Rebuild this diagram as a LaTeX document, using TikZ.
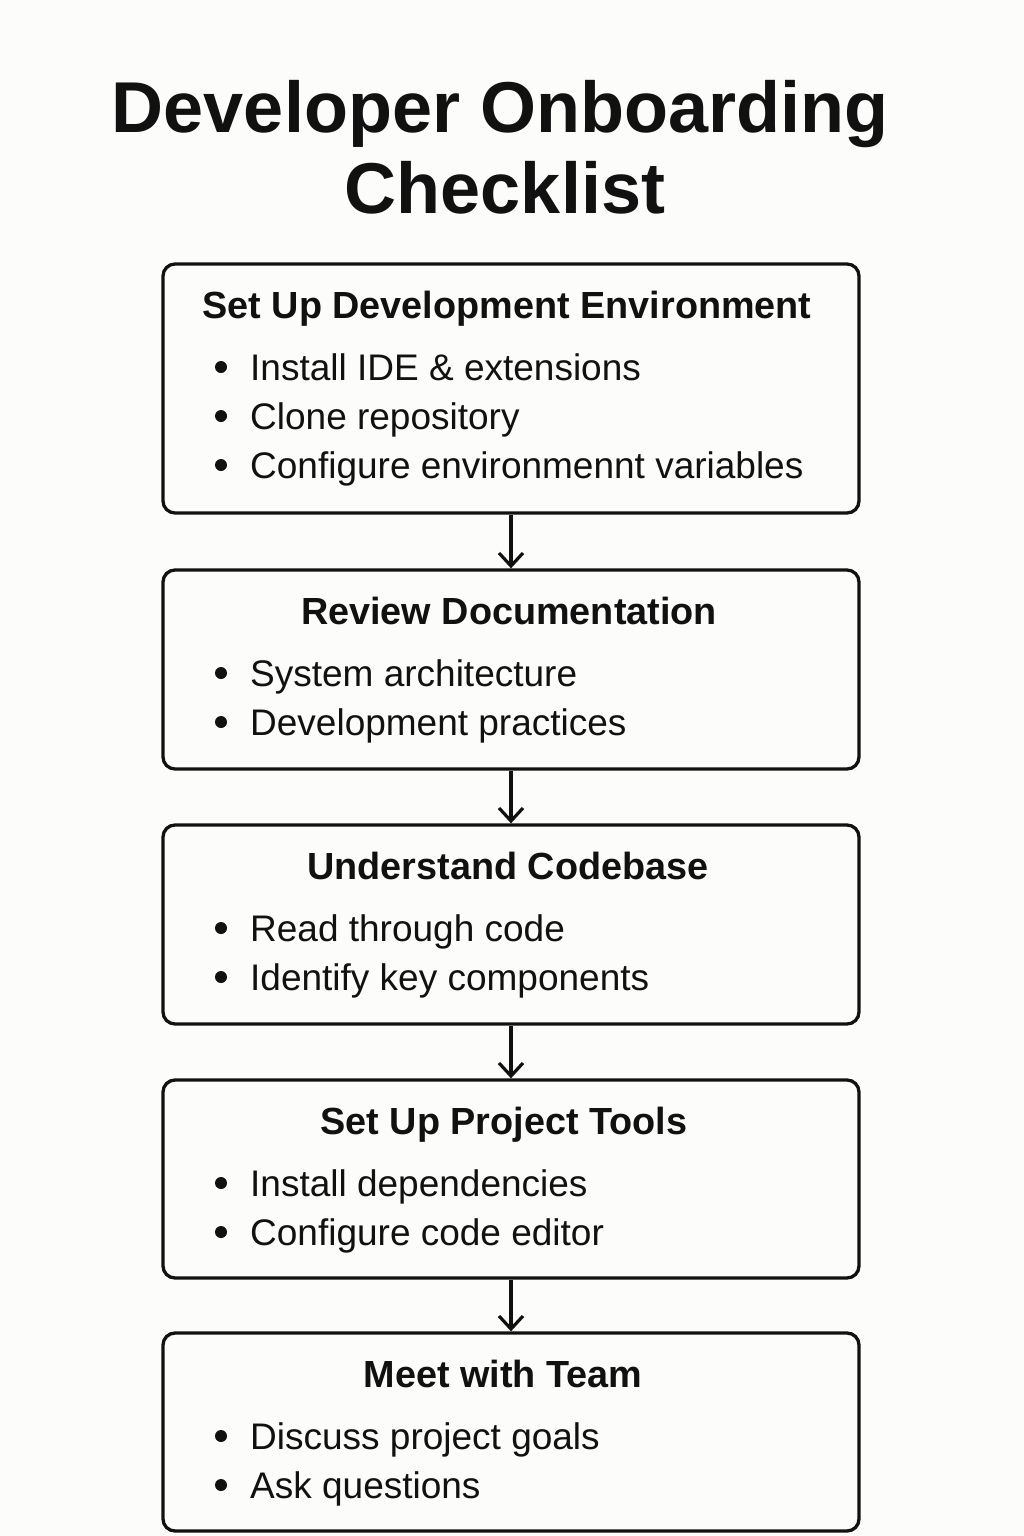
\documentclass[tikz,border=0pt]{standalone}
\usepackage{fontspec}
\setmainfont{Liberation Sans}
\usetikzlibrary{arrows.meta}
\definecolor{bgc}{RGB}{252,252,250}
\definecolor{ink}{RGB}{17,17,17}
\tikzset{
  box/.style={draw=ink, line width=3.3pt, rounded corners=12pt, minimum width=696pt, inner sep=0pt},
  ttl/.style={font=\fontsize{72}{80}\selectfont\bfseries, text=ink, inner sep=0pt, anchor=base},
  head/.style={font=\fontsize{37.8}{40}\selectfont\bfseries, text=ink, inner sep=0pt, anchor=base},
  item/.style={font=\fontsize{37}{40}\selectfont, text=ink, inner sep=0pt, anchor=base west},
  dot/.style={circle, fill=ink, minimum size=12pt, inner sep=0pt},
  flow/.style={draw=ink, line width=3.4pt, -{Straight Barb[length=13pt,width=24pt,line width=3.2pt]}}
}
\begin{document}
\begin{tikzpicture}[x=1pt,y=-1pt]
\fill[bgc] (0,0) rectangle (1024,1536);
\useasboundingbox (0,0) rectangle (1024,1536);

\node[ttl] (t1) at (500,132) {Developer Onboarding};
\node[ttl] (t2) at (505,213) {Checklist};

% boxes
\node[box, minimum height=249pt] (b1) at (511,388.5) {};
\node[box, minimum height=199pt] (b2) at (511,669.5) {};
\node[box, minimum height=199pt] (b3) at (511,924.5) {};
\node[box, minimum height=198pt] (b4) at (511,1179) {};
\node[box, minimum height=198pt] (b5) at (511,1432) {};

% box 1
\node[head] (h1) at (507,318) {Set Up Development Environment};
\node[dot] (d11) at (221,367) {}; \node[item] (i11) at (250,380) {Install IDE \& extensions};
\node[dot] (d12) at (221,416) {}; \node[item] (i12) at (250,429) {Clone repository};
\node[dot] (d13) at (221,465) {}; \node[item] (i13) at (250,478) {Configure environmennt variables};

% box 2
\node[head] (h2) at (509,624) {Review Documentation};
\node[dot] (d21) at (221,673) {}; \node[item] (i21) at (250,686) {System architecture};
\node[dot] (d22) at (221,722) {}; \node[item] (i22) at (250,735) {Development practices};

% box 3
\node[head] (h3) at (508,879) {Understand Codebase};
\node[dot] (d31) at (221,928) {}; \node[item] (i31) at (250,941) {Read through code};
\node[dot] (d32) at (221,977) {}; \node[item] (i32) at (250,990) {Identify key components};

% box 4
\node[head] (h4) at (504,1134) {Set Up Project Tools};
\node[dot] (d41) at (221,1183) {}; \node[item] (i41) at (250,1196) {Install dependencies};
\node[dot] (d42) at (221,1232) {}; \node[item] (i42) at (250,1245) {Configure code editor};

% box 5
\node[head] (h5) at (503,1387) {Meet with Team};
\node[dot] (d51) at (221,1436) {}; \node[item] (i51) at (250,1449) {Discuss project goals};
\node[dot] (d52) at (221,1485) {}; \node[item] (i52) at (250,1498) {Ask questions};

% connectors
\draw[flow] (b1.south) -- (b2.north);
\draw[flow] (b2.south) -- (b3.north);
\draw[flow] (b3.south) -- (b4.north);
\draw[flow] (b4.south) -- (b5.north);
\end{tikzpicture}
\end{document}
